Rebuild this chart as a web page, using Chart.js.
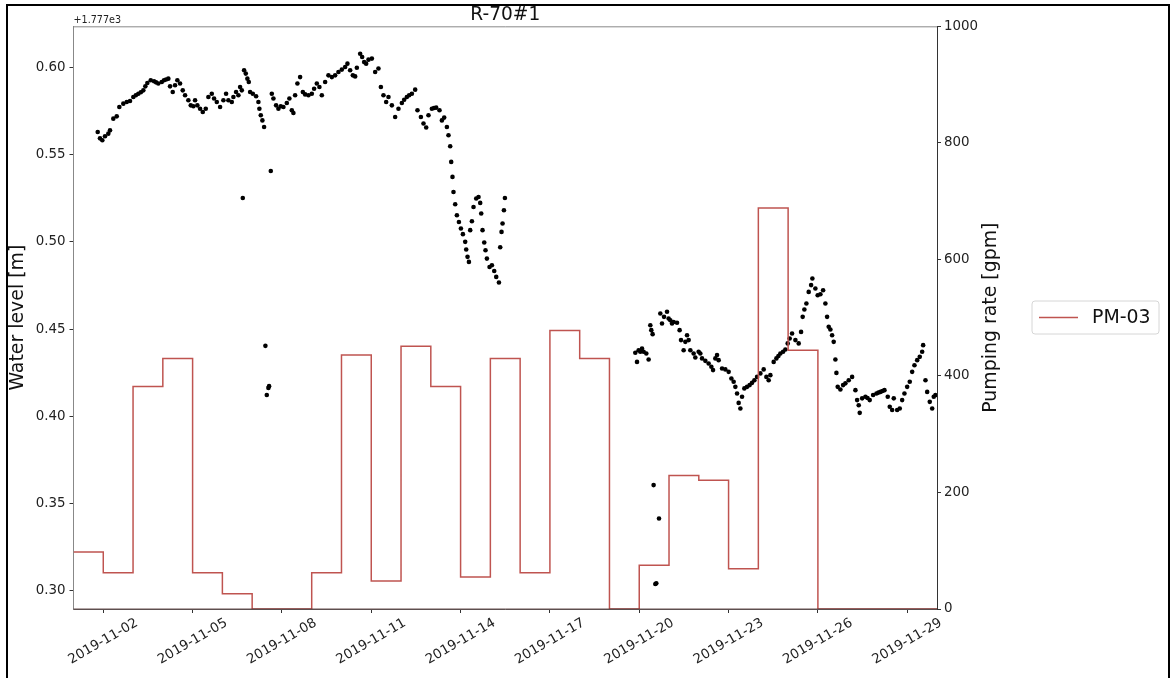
<!DOCTYPE html>
<html><head><meta charset="utf-8">
<script src="https://cdn.jsdelivr.net/npm/chart.js@4.4.1/dist/chart.umd.min.js"></script>
<style>
html,body{margin:0;padding:0;background:#fff;}
#wrap{position:relative;width:1171px;height:678px;overflow:hidden;}
#frame{position:absolute;left:6px;top:4px;width:1164px;height:700px;box-sizing:border-box;border:2px solid #000;pointer-events:none;}
canvas{display:block;}
</style></head><body>
<div id="wrap"><canvas id="c" width="1171" height="678"></canvas><div id="frame"></div></div>
<script>
const startDate = '2019-11-01';
const endDate = '2019-11-30';
const xTickLabels = ['2019-11-02','2019-11-05','2019-11-08','2019-11-11','2019-11-14','2019-11-17','2019-11-20','2019-11-23','2019-11-26','2019-11-29'];
const levelOffset = 1777;
const leftTickValues = [0.30,0.35,0.40,0.45,0.50,0.55,0.60];
const rightTickValues = [0,200,400,600,800,1000];

// Water level observations: days since 2019-11-01 00:00 and level [m]
const levelDays = [
 0.813,0.890,0.968,1.058,1.169,1.226,1.337,1.452,1.539,1.673,
 1.788,1.898,2.009,2.093,2.177,2.261,2.345,2.413,2.480,2.594,2.705,2.772,2.849,2.964,
 3.040,3.108,3.185,3.243,3.333,3.411,3.488,3.579,3.669,3.747,3.858,
 3.938,4.026,4.083,4.160,4.251,4.341,4.442,4.530,4.644,4.721,
 4.812,4.923,5.034,5.124,5.202,5.316,5.370,5.460,5.538,5.595,
 5.652,5.685,5.729,5.786,5.840,5.887,5.931,6.022,6.132,6.210,
 6.243,6.290,6.344,6.401,6.445,6.492,6.546,6.569,6.626,6.660,
 6.714,6.804,6.882,6.962,7.050,7.164,7.251,7.332,7.386,7.443,
 7.520,7.611,7.702,7.779,7.890,8.004,8.081,8.172,8.259,8.340,8.451,
 8.562,8.676,8.787,8.898,9.012,9.123,9.200,9.291,9.382,9.459,
 9.516,9.627,9.694,9.761,9.829,9.906,10.020,10.131,10.242,10.323,
 10.410,10.501,10.578,10.692,10.803,10.914,11.028,11.106,11.196,11.273,11.364,11.475,
 11.552,11.667,11.754,11.845,11.922,12.036,12.107,12.181,12.292,12.372,12.450,
 12.540,12.594,12.651,12.685,12.728,12.762,12.819,12.876,12.944,13.011,
 13.078,13.155,13.189,13.233,13.280,13.323,13.380,13.434,13.525,13.602,
 13.659,13.693,13.737,13.794,13.837,13.884,13.972,14.052,14.130,14.197,
 14.288,14.331,14.375,14.409,14.456,14.489,
 18.868,18.925,18.979,19.036,19.093,19.147,19.237,19.315,19.372,19.405,
 19.449,19.483,19.540,19.573,19.664,19.708,19.765,19.832,19.933,19.987,
 20.044,20.101,20.155,20.269,20.356,20.403,20.491,20.548,20.605,20.659,
 20.716,20.827,20.884,20.995,21.052,21.109,21.220,21.331,21.422,21.479,
 21.556,21.613,21.667,21.781,21.892,22.003,22.094,22.171,22.228,22.285,
 22.339,22.396,22.453,22.530,22.621,22.708,22.789,22.867,22.957,23.068,
 23.179,23.270,23.347,23.404,23.515,23.606,23.673,23.740,23.831,23.908,23.985,
 24.052,24.133,24.244,24.355,24.435,24.489,24.546,24.614,24.691,24.772,
 24.815,24.916,24.993,25.084,25.175,25.252,25.309,25.363,25.420,25.477,
 25.531,25.588,25.622,25.665,25.756,25.847,25.924,26.035,26.149,26.260,
 26.317,26.371,26.405,26.485,26.596,26.666,26.741,26.855,26.966,27.034,27.101,27.168,27.235,
 27.346,27.413,27.494,27.548,27.662,27.749,27.830,27.907,27.998,28.085,
 28.166,28.243,28.334,28.421,28.502,28.535,28.613,28.670,28.757,28.838,
 28.891,28.948
];
const levelValues = [
 1777.5629,1777.5593,1777.5582,1777.5605,1777.5620,1777.5639,1777.5706,1777.5719,1777.5773,1777.5792,
 1777.5801,1777.5807,1777.5830,1777.5840,1777.5849,1777.5857,1777.5868,1777.5891,1777.5910,1777.5926,1777.5920,1777.5914,1777.5907,1777.5916,
 1777.5926,1777.5930,1777.5935,1777.5891,1777.5859,1777.5897,1777.5926,1777.5907,1777.5868,1777.5840,1777.5811,
 1777.5782,1777.5777,1777.5811,1777.5782,1777.5763,1777.5744,1777.5763,1777.5830,1777.5849,1777.5821,
 1777.5801,1777.5773,1777.5811,1777.5849,1777.5811,1777.5801,1777.5830,1777.5859,1777.5840,1777.5887,
 1777.5868,1777.5251,1777.5983,1777.5964,1777.5935,1777.5916,1777.5859,1777.5849,1777.5834,1777.5801,
 1777.5763,1777.5725,1777.5696,1777.5658,1777.4404,1777.4122,1777.4163,1777.4173,1777.5406,1777.5849,
 1777.5821,1777.5782,1777.5763,1777.5777,1777.5773,1777.5796,1777.5821,1777.5754,1777.5738,1777.5840,
 1777.5907,1777.5944,1777.5859,1777.5845,1777.5840,1777.5849,1777.5877,1777.5907,1777.5887,1777.5840,1777.5916,
 1777.5954,1777.5944,1777.5954,1777.5973,1777.5987,1777.6002,1777.6021,1777.5983,1777.5954,1777.5948,
 1777.5998,1777.6078,1777.6059,1777.6030,1777.6021,1777.6044,1777.6050,1777.5973,1777.5993,1777.5887,
 1777.5840,1777.5801,1777.5830,1777.5782,1777.5715,1777.5763,1777.5796,1777.5814,1777.5830,1777.5840,1777.5849,1777.5872,
 1777.5754,1777.5715,1777.5678,1777.5655,1777.5725,1777.5763,1777.5767,1777.5769,1777.5754,1777.5696,1777.5712,
 1777.5658,1777.5611,1777.5548,1777.5458,1777.5372,1777.5286,1777.5215,1777.5152,1777.5114,1777.5076,
 1777.5044,1777.5000,1777.4956,1777.4914,1777.4885,1777.5067,1777.5118,1777.5200,1777.5248,1777.5257,
 1777.5223,1777.5162,1777.5067,1777.4996,1777.4952,1777.4904,1777.4856,1777.4866,1777.4833,1777.4799,
 1777.4767,1777.4969,1777.5057,1777.5105,1777.5181,1777.5251,
 1777.4364,1777.4312,1777.4379,1777.4370,1777.4389,1777.4370,1777.4360,1777.4326,1777.4522,1777.4494,
 1777.4471,1777.3606,1777.3039,1777.3043,1777.3415,1777.4589,1777.4532,1777.4570,1777.4599,1777.4561,
 1777.4551,1777.4532,1777.4541,1777.4536,1777.4494,1777.4437,1777.4379,1777.4427,1777.4465,1777.4437,
 1777.4379,1777.4360,1777.4337,1777.4370,1777.4360,1777.4332,1777.4318,1777.4303,1777.4284,1777.4265,
 1777.4332,1777.4351,1777.4322,1777.4274,1777.4269,1777.4255,1777.4217,1777.4198,1777.4169,1777.4131,
 1777.4077,1777.4045,1777.4112,1777.4160,1777.4169,1777.4179,1777.4192,1777.4207,1777.4226,1777.4246,
 1777.4269,1777.4226,1777.4207,1777.4236,1777.4312,1777.4332,1777.4346,1777.4360,1777.4370,1777.4383,1777.4418,
 1777.4446,1777.4475,1777.4437,1777.4418,1777.4484,1777.4570,1777.4612,1777.4647,1777.4713,1777.4752,
 1777.4790,1777.4733,1777.4694,1777.4700,1777.4723,1777.4647,1777.4570,1777.4513,1777.4498,1777.4465,
 1777.4427,1777.4326,1777.4249,1777.4169,1777.4154,1777.4179,1777.4189,1777.4207,1777.4226,1777.4150,
 1777.4093,1777.4064,1777.4020,1777.4103,1777.4112,1777.4105,1777.4093,1777.4122,1777.4131,1777.4136,1777.4140,1777.4145,1777.4150,
 1777.4112,1777.4055,1777.4036,1777.4103,1777.4036,1777.4045,1777.4093,1777.4131,1777.4169,1777.4198,
 1777.4255,1777.4293,1777.4322,1777.4341,1777.4370,1777.4408,1777.4207,1777.4140,1777.4083,1777.4045,
 1777.4112,1777.4122
];

// Pumping rate PM-03: daily values starting at each day (days since 2019-11-01)
const pumpDays  = [0,1,2,3,4,5,6,7,8,9,10,11,12,13,14,15,16,17,18,19,20,21,22,23,24,25,26,27,28,29];
const pumpRates = [98,62,382,430,62,26,0,0,62,436,48,451,382,55,430,62,478,430,0,75,229,221,69,688,444,0,0,0,0,0];

const FONT = "'DejaVu Sans', sans-serif";
const RED = '#bf5450';
Chart.defaults.font.family = FONT;

const dayOf = s => (Date.parse(s + 'T00:00:00Z') - Date.parse(startDate + 'T00:00:00Z')) / 86400000;

const levelData = levelDays.map((d, i) => ({x: d, y: levelValues[i]}));
const pumpData = pumpDays.map((d, i) => ({x: d, y: pumpRates[i]}));

const decor = {
  id: 'decor',
  afterDraw(chart) {
    const {ctx, chartArea: a} = chart;
    ctx.save();
    // top spine
    ctx.strokeStyle = '#888';
    ctx.lineWidth = 1;
    ctx.beginPath();
    ctx.moveTo(a.left, a.top + 0.5);
    ctx.lineTo(a.right, a.top + 0.5);
    ctx.stroke();
    // bottom spine over the zero-rate line
    ctx.strokeStyle = 'rgba(80,50,50,0.85)';
    ctx.beginPath();
    ctx.moveTo(a.left, a.bottom);
    ctx.lineTo(a.right, a.bottom);
    ctx.stroke();
    // offset text
    ctx.fillStyle = '#222';
    ctx.font = '9.6px ' + FONT;
    ctx.textAlign = 'left';
    ctx.textBaseline = 'alphabetic';
    ctx.fillText('+1.777e3', a.left, a.top - 3.5);
    // right axis title (reads bottom to top)
    const yr = chart.scales.yR;
    ctx.save();
    ctx.translate(yr.right - 11, (a.top + a.bottom) / 2);
    ctx.rotate(-Math.PI / 2);
    ctx.fillStyle = '#111';
    ctx.font = '18.9px ' + FONT;
    ctx.textAlign = 'center';
    ctx.textBaseline = 'middle';
    ctx.fillText(chart.options.scales.yR.title.text, 0, 0);
    ctx.restore();
    // legend
    const bx = 1032, by = 301, bw = 127, bh = 33, r = 3;
    ctx.beginPath();
    ctx.moveTo(bx + r, by);
    ctx.arcTo(bx + bw, by, bx + bw, by + bh, r);
    ctx.arcTo(bx + bw, by + bh, bx, by + bh, r);
    ctx.arcTo(bx, by + bh, bx, by, r);
    ctx.arcTo(bx, by, bx + bw, by, r);
    ctx.closePath();
    ctx.fillStyle = 'rgba(255,255,255,0.8)';
    ctx.fill();
    ctx.strokeStyle = '#d6d6d6';
    ctx.lineWidth = 1;
    ctx.stroke();
    ctx.strokeStyle = RED;
    ctx.lineWidth = 1.5;
    ctx.beginPath();
    ctx.moveTo(bx + 7, by + 16.5);
    ctx.lineTo(bx + 46, by + 16.5);
    ctx.stroke();
    ctx.fillStyle = '#111';
    ctx.font = '18.9px ' + FONT;
    ctx.textAlign = 'left';
    ctx.textBaseline = 'middle';
    ctx.fillText(chart.data.datasets[0].label, bx + 60, by + 17);
    ctx.restore();
  }
};

new Chart(document.getElementById('c'), {
  type: 'line',
  data: {
    datasets: [
      {
        label: 'PM-03',
        data: pumpData,
        yAxisID: 'yR',
        stepped: 'before',
        borderColor: RED,
        borderWidth: 1.5,
        pointRadius: 0,
        fill: false,
        clip: {left: 0, right: 0, top: 0, bottom: 0},
        order: 0
      },
      {
        label: 'R-70#1',
        data: levelData,
        yAxisID: 'yL',
        showLine: false,
        pointRadius: 2.3,
        pointBorderWidth: 0,
        pointBackgroundColor: '#000',
        borderColor: '#000',
        order: 1
      }
    ]
  },
  options: {
    responsive: false,
    animation: false,
    devicePixelRatio: 1,
    layout: {padding: {left: 0, right: 169, top: 0, bottom: 0}},
    plugins: {
      legend: {display: false},
      tooltip: {enabled: false},
      title: {
        display: true, text: 'R-70#1', fullSize: false,
        color: '#111', font: {size: 18.6, weight: 'normal'},
        padding: {top: 4, bottom: 0}
      }
    },
    scales: {
      x: {
        type: 'linear', position: 'bottom',
        min: dayOf(startDate), max: dayOf(endDate),
        afterBuildTicks: s => { s.ticks = xTickLabels.map(l => ({value: dayOf(l)})); },
        afterFit: s => { s.height = 69; },
        ticks: {
          autoSkip: false, minRotation: 30, maxRotation: 30, labelOffset: 33.7, padding: 2,
          color: '#222', font: {size: 13.4},
          callback: (v, i) => xTickLabels[i]
        },
        grid: {display: true, drawOnChartArea: false, drawTicks: true, tickLength: 4, tickColor: '#333'},
        border: {display: true, color: '#666', width: 1}
      },
      yL: {
        type: 'linear', position: 'left',
        min: levelOffset + 0.2896, max: levelOffset + 0.6235,
        afterBuildTicks: s => { s.ticks = leftTickValues.map(v => ({value: levelOffset + v})); },
        afterFit: s => { s.width = 73.5; },
        ticks: {
          color: '#222', font: {size: 13.4}, padding: 4,
          callback: v => (v - levelOffset).toFixed(2)
        },
        grid: {display: true, drawOnChartArea: false, drawTicks: true, tickLength: 4, tickColor: '#333'},
        border: {display: true, color: '#888', width: 1},
        title: {display: true, text: 'Water level [m]', color: '#111', font: {size: 18.9}, padding: {top: 7, bottom: 0}}
      },
      yR: {
        type: 'linear', position: 'right',
        min: 0, max: 1000,
        afterBuildTicks: s => { s.ticks = rightTickValues.map(v => ({value: v})); },
        afterFit: s => { s.width = 65; },
        ticks: {color: '#222', font: {size: 13.4}, padding: 3, callback: v => String(v)},
        grid: {display: true, drawOnChartArea: false, drawTicks: true, tickLength: 4, tickColor: '#333'},
        border: {display: true, color: '#333', width: 1},
        title: {display: false, text: 'Pumping rate [gpm]'}
      }
    }
  },
  plugins: [decor]
});
</script>
</body></html>
